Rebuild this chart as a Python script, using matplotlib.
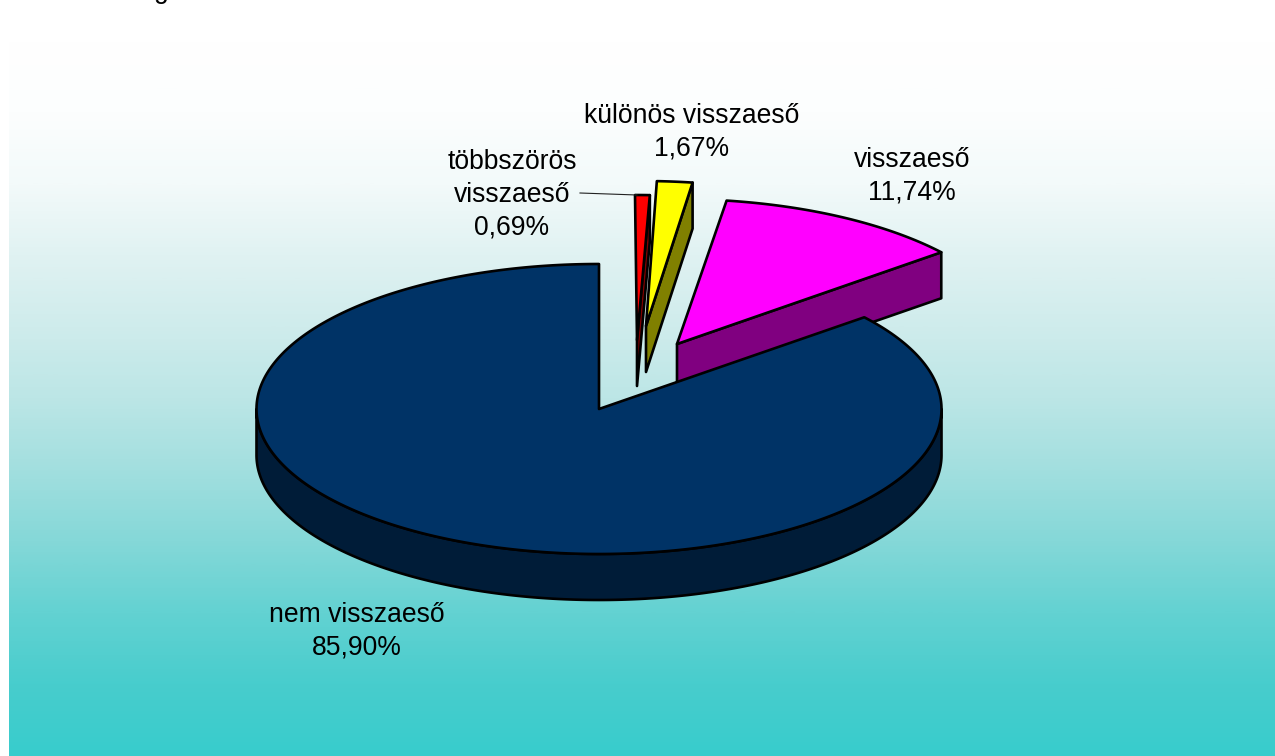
import numpy as np
import matplotlib
matplotlib.use('Agg')
import matplotlib.pyplot as plt
from matplotlib.colors import LinearSegmentedColormap
from matplotlib.patches import Polygon

plt.rcParams['font.family'] = ['Liberation Sans', 'DejaVu Sans']

# clockwise from 12 o'clock
categories = ['többszörös\nvisszaeső', 'különös visszaeső', 'visszaeső', 'nem visszaeső']
shares = [0.69, 1.67, 11.74, 85.90]
share_labels = ['0,69%', '1,67%', '11,74%', '85,90%']

top_colors = ['#ff0000', '#ffff00', '#ff00ff', '#003366']
side_colors = ['#800000', '#808000', '#800080', '#001c38']
offsets = [(36, -69), (43, -83), (77, -65), (0, 0)]
apex_shift = [2, 4, 1, 0]
label_pos = [(512, 195), (692, 132), (912, 176), (357, 631)]
bg_stops = ['#ffffff', '#fcfefe', '#f3fafa', '#e0f2f2', '#cfecec', '#bce6e6',
            '#a2dfdf', '#85d8d8', '#63d2d2', '#48cdcd', '#38cccc']

cx, cy = 599, 409
rx, ry = 342.5, 145
depth = 46


def rim(t0, t1, dx, dy):
    t = np.radians(np.linspace(t0, t1, max(int(abs(t1 - t0) * 2), 2) + 1))
    return np.column_stack([cx + dx + rx * np.sin(t), cy + dy - ry * np.cos(t)])


fig = plt.figure(figsize=(12.75, 7.56), dpi=100)
ax = fig.add_axes([0, 0, 1, 1])
ax.axis('off')

# background gradient panel
cmap = LinearSegmentedColormap.from_list('bg', bg_stops)
grad = np.linspace(0, 1, 512).reshape(-1, 1)
ax.imshow(grad, cmap=cmap, extent=(9, 1275, 756, 40), aspect='auto', zorder=0)
ax.set_xlim(0, 1275)
ax.set_ylim(756, 0)

edges = np.cumsum([0] + shares) / 100 * 360

# navy slice goes last so it sits in front of the pulled-out ones
for i in [2, 1, 0, 3]:
    t0, t1 = edges[i], edges[i + 1]
    dx, dy = offsets[i]
    apex = np.array([[cx + dx + apex_shift[i], cy + dy]])
    arc = rim(t0, t1, dx, dy)
    down = np.array([0, depth])
    style = dict(ec='black', lw=1.9, joinstyle='round')
    if i == 3:
        front = rim(90, 270, dx, dy)
        side = np.vstack([front, (front + down)[::-1]])
        ax.add_patch(Polygon(side, fc=side_colors[i], zorder=2 + i, **style))
    else:
        # wall along the trailing radius is the one facing the viewer
        p = arc[-1:]
        wall = np.vstack([apex, p, p + down, apex + down])
        ax.add_patch(Polygon(wall, fc=side_colors[i], zorder=2 + i, **style))
    ax.add_patch(Polygon(np.vstack([apex, arc]), fc=top_colors[i], zorder=2 + i, **style))

for cat, lab, (x, y) in zip(categories, share_labels, label_pos):
    ax.text(x, y, cat + '\n' + lab, ha='center', va='center', fontsize=19.1,
            linespacing=1.34, color='black', zorder=10)

# leader line of the smallest slice
ax.plot([580, 637], [193, 195], color='#222222', lw=0.8, zorder=9)

# cut-off caption at the top edge
ax.text(161, -1.5, 'g', ha='center', va='baseline', fontsize=19.1, color='black', zorder=10)

fig.savefig('out.png', dpi=100)
